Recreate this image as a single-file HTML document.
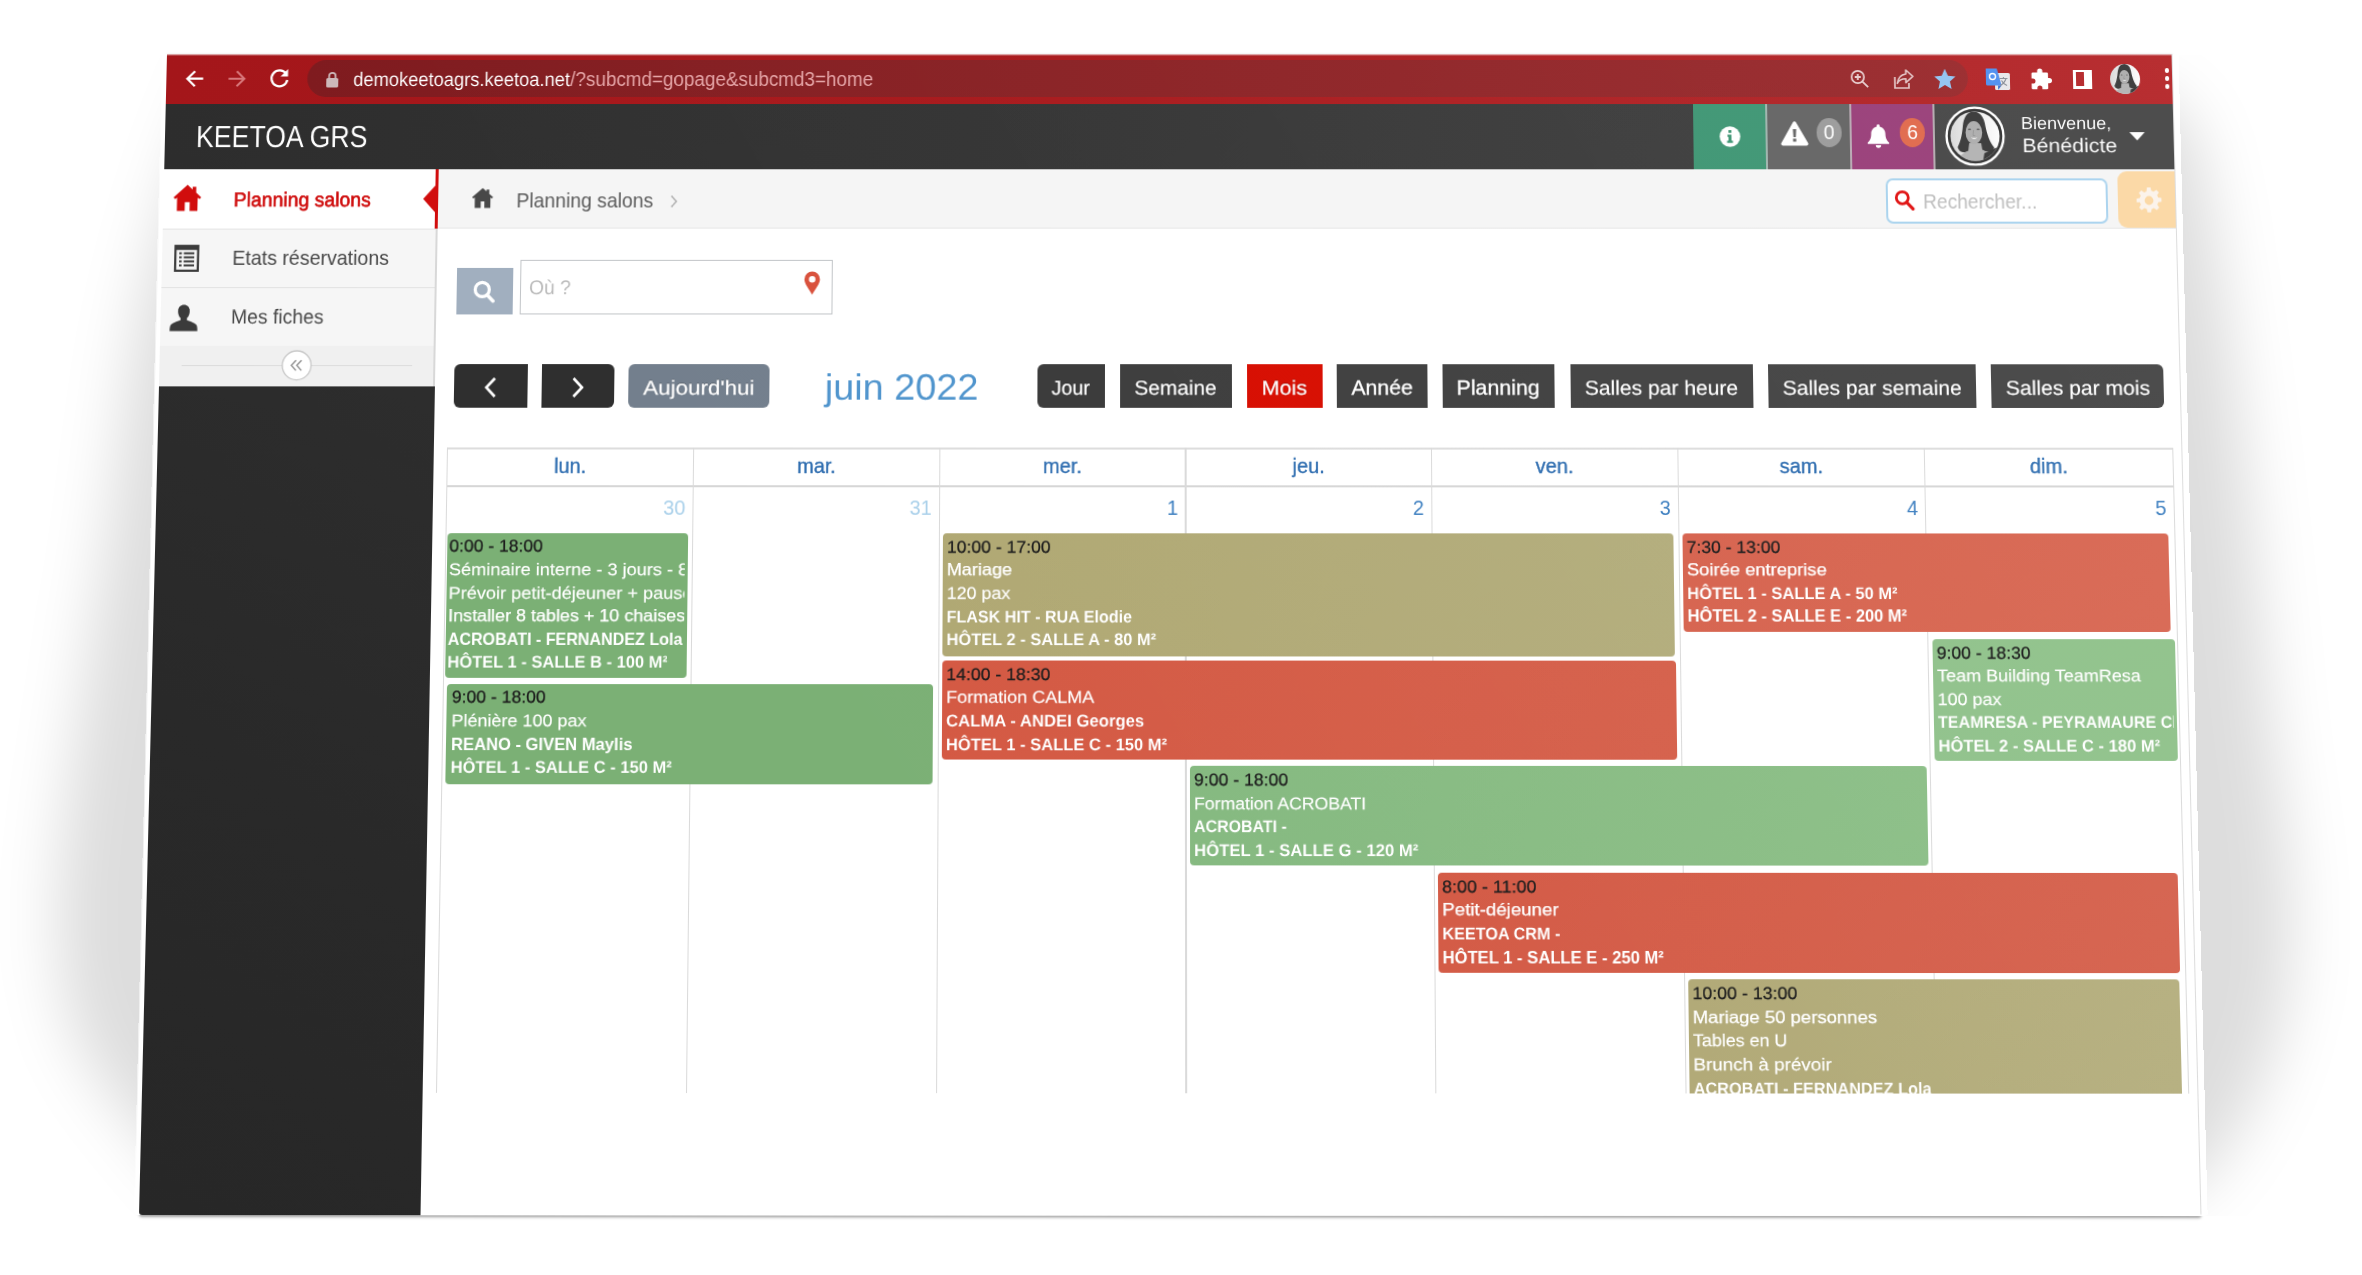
<!DOCTYPE html>
<html lang="fr"><head><meta charset="utf-8"><title>KEETOA GRS - Planning salons</title>
<style>
html,body{margin:0;padding:0;background:#fff}
body{width:2362px;height:1275px;overflow:hidden;position:relative;font-family:"Liberation Sans",sans-serif}
.a{position:absolute;display:block}
.t{position:absolute;white-space:nowrap;margin:0;padding:0}
#page{position:absolute;left:0;top:0;width:2006px;height:1130px;transform-origin:0 0;transform:matrix3d(0.99884448,-0.00002253,0,-0.0000004172, -0.02817683,0.99773107,0,-0.0000244465, 0,0,1,0, 167.000000,54.000000,0,1);background:#fff;overflow:hidden;border-radius:0 0 3px 3px;outline:1px solid transparent}
.sh{position:absolute;pointer-events:none}
#back{position:absolute;left:0;top:0;width:2006px;height:1130px;transform-origin:0 0;transform:matrix3d(0.99884448,-0.00002253,0,-0.0000004172, -0.02817683,0.99773107,0,-0.0000244465, 0,0,1,0, 167.000000,54.000000,0,1);background:#fff;box-shadow:-4.5px 0 0 #fff,6px 0 0 #fff,0 1.5px 2.5px rgba(0,0,0,.35);border-radius:0 0 3px 3px}
</style></head><body>
<svg class="sh" style="left:0;top:0" width="2362" height="1275" viewBox="0 0 2362 1275"><defs><filter id="bl" x="-20%" y="-20%" width="140%" height="140%"><feGaussianBlur stdDeviation="30"/></filter><clipPath id="shc"><rect x="0" y="55" width="2362" height="1161"/></clipPath></defs>
<g clip-path="url(#shc)">
<g filter="url(#bl)" fill="#000" fill-opacity=".135">
<path d="M222 62C185 140 156 230 136 330C118 440 110 540 95 610C80 720 58 830 58 920C58 980 68 1025 88 1060C108 1092 125 1112 150 1142C165 1160 180 1180 200 1196L330 1196L330 62Z"/>
<path d="M2120 84C2160 90 2186 110 2196 140C2206 180 2212 210 2217 250C2226 300 2232 350 2238 400C2250 500 2260 600 2269 700C2276 770 2290 840 2291 900C2292 950 2290 990 2282 1020C2274 1052 2266 1076 2254 1100C2244 1120 2236 1135 2225 1150C2210 1170 2196 1186 2180 1196L2020 1196L2020 84Z"/>
</g></g></svg>

<div id="back"></div>
<div id="page"><div class="a" style="left:0.0px;top:0.0px;width:2006.0px;height:50.5px;background:linear-gradient(90deg,#a4161a 0%,#a8191c 40%,#b5272a 100%);"></div><div class="a" style="left:141.3px;top:5.9px;width:1659.4px;height:37.4px;background:linear-gradient(90deg,#7f1b1f 0%,#8a2225 45%,#9a2a2d 100%);border-radius:18.7px"></div><div class="a" style="left:0.0px;top:0.0px;width:2006.0px;height:2.2px;background:linear-gradient(rgba(255,255,255,.8),rgba(255,255,255,0));"></div><svg class="a" style="left:18px;top:13px" width="22" height="24" viewBox="0 0 22 24"><path d="M18.8 11.7H3.4M10.6 4.2L3 11.7l7.6 7.5" fill="none" stroke="#fff" stroke-width="2.2"/></svg><svg class="a" style="left:60px;top:13px" width="22" height="24" viewBox="0 0 22 24"><path d="M2.2 11.7h15.4M10.4 4.2l7.6 7.5-7.6 7.5" fill="none" stroke="#d8787b" stroke-width="2"/></svg><svg class="a" style="left:101px;top:12px" width="24" height="26" viewBox="0 0 24 26"><path d="M18.6 7.6A8 8 0 1 0 20 14" fill="none" stroke="#fff" stroke-width="2.3"/><path d="M20.6 3v7.4h-7.4z" fill="#fff"/></svg><svg class="a" style="left:158.5px;top:17px" width="14" height="17" viewBox="0 0 14 17"><rect x="1" y="7" width="12" height="9.4" rx="1.5" fill="#cdb9ba"/><path d="M3.8 7.5V5a3.2 3.2 0 0 1 6.4 0v2.5" fill="none" stroke="#cdb9ba" stroke-width="1.8"/></svg><div id="url1" class="t" style="left:187.2px;transform-origin:0 50%;transform:scaleX(0.9344);top:10.51px;font-size:19.6px;line-height:29.4px;color:#fff;font-weight:400;">demokeetoagrs.keetoa.net</div><div id="url2" class="t" style="left:404.2px;transform-origin:0 50%;transform:scaleX(0.9625);top:10.51px;font-size:19.6px;line-height:29.4px;color:#e4a3a5;font-weight:400;">/?subcmd=gopage&amp;subcmd3=home</div><svg class="a" style="left:1681px;top:13px" width="24" height="24" viewBox="0 0 24 24"><circle cx="10" cy="10" r="6.2" fill="none" stroke="#e9cfd0" stroke-width="1.7"/><path d="M14.6 14.6l5.6 5.6M7 10h6M10 7v6" stroke="#e9cfd0" stroke-width="1.8" fill="none"/></svg><svg class="a" style="left:1724px;top:12px" width="26" height="26" viewBox="0 0 26 26"><path d="M4 11v11h14v-5" fill="none" stroke="#e3c3c4" stroke-width="1.7"/><path d="M15 4l7 6.4-7 6.2v-3.8c-4.5 0-7 1.6-8.6 4.6.6-5 3.3-8.6 8.6-9.4z" fill="none" stroke="#e3c3c4" stroke-width="1.6" stroke-linejoin="round"/></svg><svg class="a" style="left:1765.6px;top:12.5px" width="24" height="24" viewBox="0 0 24 24"><path d="M12 1.8l3.1 6.9 7.5.8-5.6 5 1.6 7.4L12 18.100l-6.600 3.800 1.600-7.400-5.600-5 7.500-.8z" fill="#92c4f2"/></svg><svg class="a" style="left:1817px;top:11px" width="28" height="28" viewBox="0 0 28 28"><rect x="11" y="8" width="15" height="17" rx="1.5" fill="#e8e8ea"/><path d="M2 3.5h11l4.500 17H3.500A1.500 1.500 0 0 1 2 19z" fill="#4f8ff0"/><path d="M17.500 20.500L14 25v-4.500z" fill="#3a6fd0"/><circle cx="8.600" cy="11.500" r="3" fill="none" stroke="#fff" stroke-width="1.400"/><path d="M15.500 13.500h8M19.500 12v1.500M22 13.500c-.8 3-3 5.500-6 7M17.500 15.500c1 2 3 4 5.500 5" stroke="#8a8f98" stroke-width="1.100" fill="none"/></svg><svg class="a" style="left:1861px;top:12.5px" width="25" height="25" viewBox="0 0 25 25"><path d="M9.300 4.200a2.600 2.600 0 0 1 5.200 0v1.300h4.300a1.300 1.300 0 0 1 1.300 1.300v4.100h1.200a2.700 2.700 0 0 1 0 5.400h-1.200v4.700a1.300 1.300 0 0 1-1.300 1.300h-4.500v-1.400a2.500 2.500 0 0 0-5 0v1.400H4.900a1.300 1.300 0 0 1-1.300-1.300v-4.400h1.300a2.600 2.600 0 0 0 0-5.200H3.600V6.800a1.300 1.300 0 0 1 1.300-1.300h4.400z" fill="#fff"/></svg><div class="a" style="left:1906.3px;top:15.5px;width:18.6px;height:19.0px;background:#fff;"></div><div class="a" style="left:1909.0px;top:18.2px;width:8.0px;height:13.6px;background:#b5272a;"></div><svg class="a" style="left:1943.400px;top:10px" width="30" height="30" viewBox="5.500 5.500 49 49"><defs><clipPath id="av1c"><circle cx="30" cy="30" r="24.500"/></clipPath><linearGradient id="av1g" x1="0" x2="1"><stop offset="0" stop-color="#d4d4d4"/><stop offset=".45" stop-color="#ececec"/><stop offset="1" stop-color="#ffffff"/></linearGradient></defs><g clip-path="url(#av1c)"><rect width="60" height="60" fill="url(#av1g)"/><path d="M29 5.500C22 5.500 19 12 18 20C17 30 15 36 12.500 41C14 47 20 47 24 44.500L38 44.500C42 47 47.500 45 49 41.500C44.500 36 42 28 40.500 20C39.500 12 36 5.500 29 5.500Z" fill="#393939"/><path d="M24 37L36 37L37 43.500C42 45.500 46 50 47 57L12 57C13 50 18 46.500 23 44.500Z" fill="#b3b3b3"/><path d="M39 47C43 45 48 42.500 53 41L58 58L37 58Z" fill="#363636"/><ellipse cx="28.900" cy="26.500" rx="8.300" ry="11.400" fill="#adadad"/><path d="M25.800 31.200C27.500 33.600 30.800 33.600 32.400 31.200C30.500 32 27.800 32 25.800 31.200Z" fill="#eeeeee"/><ellipse cx="24.600" cy="23.300" rx="1.700" ry=".8" fill="#5a5a5a"/><ellipse cx="33.200" cy="23.300" rx="1.700" ry=".8" fill="#5a5a5a"/><path d="M28.600 24L28 29.500L30.200 29.500" fill="none" stroke="#8f8f8f" stroke-width=".7"/></g></svg><div class="a" style="left:1997.8px;top:14.3px;width:4.4px;height:4.4px;background:#fff;border-radius:50%"></div><div class="a" style="left:1997.8px;top:22.3px;width:4.4px;height:4.4px;background:#fff;border-radius:50%"></div><div class="a" style="left:1997.8px;top:30.3px;width:4.4px;height:4.4px;background:#fff;border-radius:50%"></div><div class="a" style="left:0.0px;top:50.0px;width:2006.0px;height:65.0px;background:linear-gradient(90deg,#2d2d2d 0%,#343434 40%,#404040 85%,#464646 100%);"></div><div id="brand" class="t" style="left:31.3px;transform-origin:0 50%;transform:scaleX(0.8710);top:59.55px;font-size:30.6px;line-height:45.9px;color:#fff;font-weight:400;">KEETOA GRS</div><div class="a" style="left:1525.7px;top:50.0px;width:72.2px;height:65.0px;background:#3f9674;"></div><div class="a" style="left:1597.9px;top:50.0px;width:2.0px;height:65.0px;background:#9fb5ae;"></div><div class="a" style="left:1599.9px;top:50.0px;width:82.0px;height:65.0px;background:#656565;"></div><div class="a" style="left:1681.9px;top:50.0px;width:1.8px;height:65.0px;background:#b9a9b3;"></div><div class="a" style="left:1683.7px;top:50.0px;width:81.0px;height:65.0px;background:#993f79;"></div><div class="a" style="left:1764.7px;top:50.0px;width:2.2px;height:65.0px;background:#b5aab0;"></div><div class="a" style="left:1766.9px;top:50.0px;width:239.1px;height:65.0px;background:#474747;"></div><svg class="a" style="left:1551.5px;top:71.800px" width="21" height="21" viewBox="0 0 21 21"><circle cx="10.500" cy="10.500" r="10.300" fill="#fff"/><path d="M8 8.600h4v6h1.400v2.200H7.600v-2.200H9v-3.800H8zM9 4h3v2.800H9z" fill="#3f9674"/></svg><svg class="a" style="left:1611.5px;top:66px" width="30" height="26" viewBox="0 0 30 26"><path d="M15 1.200a1.600 1.600 0 0 1 1.400.8l12 21a1.600 1.600 0 0 1-1.400 2.400H3a1.600 1.600 0 0 1-1.400-2.400l12-21a1.600 1.600 0 0 1 1.400-.8z" fill="#fff"/><path d="M13.300 9h3.400l-.5 8h-2.400zM13.400 18.600h3.200v3h-3.200z" fill="#656565"/></svg><div class="a" style="left:1649.2px;top:64.2px;width:24.6px;height:28.4px;background:#9b9b9b;border-radius:50%"></div><div id="b0" class="t" style="left:1661.5px;transform:translateX(-50%) scaleX(1.0000);top:63.82px;font-size:19.5px;line-height:29.25px;color:#fff;font-weight:400;">0</div><svg class="a" style="left:1697.5px;top:68.500px" width="25" height="26" viewBox="0 0 25 26"><path d="M12.500 1.200c.9 0 1.500.6 1.500 1.500v.7c3.600.8 5.600 3.800 5.600 7.400 0 4.600 1.400 6.800 3.600 8.600v1.400H1.800v-1.400C4 17.600 5.400 15.400 5.400 10.800c0-3.600 2-6.600 5.600-7.400v-.7c0-.9.600-1.500 1.500-1.500zM9.800 22h5.400a2.700 2.700 0 0 1-5.400 0z" fill="#fff"/></svg><div class="a" style="left:1732.3px;top:64.2px;width:24.6px;height:28.4px;background:#e06a4c;border-radius:50%"></div><div id="b6" class="t" style="left:1744.6px;transform:translateX(-50%) scaleX(1.0000);top:63.82px;font-size:19.5px;line-height:29.25px;color:#fff;font-weight:400;">6</div><svg class="a" style="left:1777.400px;top:51.500px" width="60" height="60" viewBox="0 0 60 60"><circle cx="30" cy="30" r="28.400" fill="#333333" stroke="#fff" stroke-width="2.400"/><defs><clipPath id="av2c"><circle cx="30" cy="30" r="24.500"/></clipPath><linearGradient id="av2g" x1="0" x2="1"><stop offset="0" stop-color="#d4d4d4"/><stop offset=".45" stop-color="#ececec"/><stop offset="1" stop-color="#ffffff"/></linearGradient></defs><g clip-path="url(#av2c)"><rect width="60" height="60" fill="url(#av2g)"/><path d="M29 5.500C22 5.500 19 12 18 20C17 30 15 36 12.500 41C14 47 20 47 24 44.500L38 44.500C42 47 47.500 45 49 41.500C44.500 36 42 28 40.500 20C39.500 12 36 5.500 29 5.500Z" fill="#393939"/><path d="M24 37L36 37L37 43.500C42 45.500 46 50 47 57L12 57C13 50 18 46.500 23 44.500Z" fill="#b3b3b3"/><path d="M39 47C43 45 48 42.500 53 41L58 58L37 58Z" fill="#363636"/><ellipse cx="28.900" cy="26.500" rx="8.300" ry="11.400" fill="#adadad"/><path d="M25.800 31.200C27.500 33.600 30.800 33.600 32.400 31.200C30.500 32 27.800 32 25.800 31.200Z" fill="#eeeeee"/><ellipse cx="24.600" cy="23.300" rx="1.700" ry=".8" fill="#5a5a5a"/><ellipse cx="33.200" cy="23.300" rx="1.700" ry=".8" fill="#5a5a5a"/><path d="M28.600 24L28 29.500L30.200 29.500" fill="none" stroke="#8f8f8f" stroke-width=".7"/></g></svg><div id="bienv" class="t" style="left:1853.3px;transform-origin:0 50%;transform:scaleX(1.0364);top:55.82px;font-size:17.4px;line-height:26.1px;color:#fff;font-weight:400;">Bienvenue,</div><div id="bened" class="t" style="left:1854.1px;transform-origin:0 50%;transform:scaleX(1.0854);top:77.11px;font-size:19.6px;line-height:29.4px;color:#fff;font-weight:400;">Bénédicte</div><svg class="a" style="left:1960.800px;top:78px" width="16" height="9" viewBox="0 0 16 9"><path d="M0 0h15.400L7.700 8.200z" fill="#fff"/></svg><div class="a" style="left:0.0px;top:115.0px;width:273.5px;height:215.0px;background:#f6f6f6;"></div><div class="a" style="left:0.0px;top:115.0px;width:273.5px;height:58.5px;background:#fff;"></div><div class="a" style="left:0.0px;top:173.5px;width:272.5px;height:1.3px;background:#e4e4e4;"></div><div class="a" style="left:0.0px;top:232.0px;width:272.5px;height:1.3px;background:#e2e2e2;"></div><div class="a" style="left:0.0px;top:290.3px;width:273.5px;height:39.7px;background:#f0f0f0;"></div><div class="a" style="left:272.4px;top:173.5px;width:1.3px;height:157.0px;background:#d8d8d8;"></div><div class="a" style="left:0.0px;top:329.8px;width:273.5px;height:800.2px;background:linear-gradient(35deg,#272727 0%,#292929 50%,#2d2d2d 100%);"></div><div class="a" style="left:270.8px;top:115.0px;width:3.0px;height:58.8px;background:#d10d0d;"></div><svg class="a" style="left:258.800px;top:128.500px" width="14" height="31" viewBox="0 0 14 31"><path d="M14 0v31L0 15.500z" fill="#d10d0d"/></svg><svg class="a" style="left:9.000px;top:128.300px" width="29.600" height="30.800" viewBox="0 0 28 28" preserveAspectRatio="none"><path d="M14 2.200L1 13.600l1.500 1.700 1.800-1.500V26h7.400v-8h4.600v8h7.400V13.800l1.800 1.500 1.500-1.700-4.800-4.200V4h-3.400v2.500z" fill="#d10d0d"/></svg><div id="ps" class="t" style="left:69.7px;transform-origin:0 50%;transform:scaleX(0.9794);top:131.09px;font-size:19.8px;line-height:29.7px;color:#cf0c0c;font-weight:400;-webkit-text-stroke:.6px #cf0c0c;">Planning salons</div><svg class="a" style="left:11.500px;top:190px" width="25" height="27" viewBox="0 0 25 27"><rect x="1.200" y="1.200" width="22.600" height="24.600" fill="none" stroke="#3b3b3b" stroke-width="2.200"/><rect x="1" y="1" width="23" height="4.200" fill="#3b3b3b"/><path d="M5 8.600h2.600M5 12.600h2.600M5 16.600h2.600M5 20.600h2.600M9.600 8.600H20M9.600 12.600H20M9.600 16.600H20M9.600 20.600H20" stroke="#3b3b3b" stroke-width="2"/></svg><div id="er" class="t" style="left:69.9px;transform-origin:0 50%;transform:scaleX(0.9853);top:189.09px;font-size:19.8px;line-height:29.7px;color:#474747;font-weight:400;">Etats réservations</div><svg class="a" style="left:8.600px;top:248.500px" width="28" height="27" viewBox="0 0 28 27"><path d="M14 0.500c3.600 0 5.800 2.700 5.800 6.400 0 2.600-1 5.200-2.600 6.700v2.200c3.800 1.400 8.400 2.800 9.600 4.800.8 1.300 1 3.400 1 5.900H.200c0-2.500.200-4.600 1-5.900 1.200-2 5.800-3.400 9.600-4.800v-2.200C9.200 12.100 8.200 9.500 8.200 6.900 8.200 3.200 10.400.5 14 .5z" fill="#3b3b3b"/></svg><div id="mf" class="t" style="left:69.7px;transform-origin:0 50%;transform:scaleX(0.9741);top:247.19px;font-size:19.8px;line-height:29.7px;color:#474747;font-weight:400;">Mes fiches</div><div class="a" style="left:21.7px;top:309.3px;width:229.2px;height:1.2px;background:#dcdcdc;"></div><svg class="a" style="left:121px;top:294.400px" width="31" height="31" viewBox="0 0 31 31"><circle cx="15.300" cy="15.300" r="14.300" fill="#fff" stroke="#c8c8c8" stroke-width="1.300"/><path d="M14.600 10.200l-4.600 5.100 4.600 5.100M20 10.200l-4.600 5.100 4.600 5.100" fill="none" stroke="#8a8a8a" stroke-width="1.300"/></svg><div class="a" style="left:273.5px;top:115.0px;width:1732.5px;height:58.5px;background:#f5f5f5;"></div><div class="a" style="left:273.5px;top:172.6px;width:1732.5px;height:1.4px;background:#e6e6e6;"></div><svg class="a" style="left:307.400px;top:131.600px" width="22.600" height="22.600" viewBox="0 0 20 20"><path d="M10 1.500L.8 9.600l1 1.200 1.300-1.100V19h5.300v-5.800h3.200V19h5.300V9.700l1.300 1.100 1-1.200-3.400-3V2.800h-2.400v1.700z" fill="#484848"/></svg><div id="bct" class="t" style="left:351.6px;transform-origin:0 50%;transform:scaleX(0.9773);top:131.59px;font-size:19.8px;line-height:29.7px;color:#5a5a5a;font-weight:400;">Planning salons</div><svg class="a" style="left:503.500px;top:139.500px" width="10" height="14" viewBox="0 0 10 14"><path d="M2.500 1.500l5 5.500-5 5.500" fill="none" stroke="#b4b4b4" stroke-width="1.600"/></svg><div class="a" style="left:1717.2px;top:124.0px;width:220.4px;height:45.3px;background:#fff;border:2px solid #a9d3ee;border-radius:7px;box-sizing:border-box"></div><svg class="a" style="left:1724.600px;top:134.500px" width="21" height="22" viewBox="0 0 21 22"><circle cx="8.300" cy="8.300" r="6" fill="none" stroke="#e01010" stroke-width="2.800"/><path d="M12.800 13l6 6.400" stroke="#e01010" stroke-width="3.200" stroke-linecap="round"/></svg><div id="rech" class="t" style="left:1753.7px;transform-origin:0 50%;transform:scaleX(0.9647);top:133.09px;font-size:19.8px;line-height:29.7px;color:#bdbdbd;font-weight:400;">Rechercher...</div><div class="a" style="left:1948.2px;top:117.1px;width:59.8px;height:56.0px;background:#fbd8a4;border-radius:9px 0 0 9px"></div><svg class="a" style="left:1965.600px;top:132.900px" width="26" height="26" viewBox="0 0 26 26"><path d="M11.200 0h3.600l.6 3.300c.8.200 1.600.6 2.300 1l2.800-1.900 2.500 2.500-1.900 2.800c.4.700.8 1.500 1 2.300l3.300.6v3.600l-3.300.6c-.200.800-.6 1.600-1 2.300l1.900 2.800-2.500 2.500-2.800-1.900c-.7.400-1.500.8-2.300 1l-.6 3.300h-3.600l-.6-3.300c-.8-.200-1.600-.6-2.300-1l-2.800 1.900-2.500-2.500 1.900-2.800c-.4-.7-.8-1.500-1-2.300L.6 14.800v-3.600l3.300-.6c.2-.8.600-1.600 1-2.300L3 5.500 5.500 3l2.800 1.900c.7-.4 1.500-.8 2.300-1zM13 8.600a4.400 4.400 0 1 0 0 8.800 4.400 4.400 0 0 0 0-8.800z" fill="#fbf3ea" fill-rule="evenodd"/></svg><div class="a" style="left:293.5px;top:212.7px;width:56.2px;height:46.1px;background:#a1afbf;"></div><svg class="a" style="left:310.000px;top:225.000px" width="22" height="23" viewBox="0 0 22 23"><circle cx="9.400" cy="9.400" r="7" fill="none" stroke="#fff" stroke-width="3.200"/><path d="M14.600 15l5.600 5.800" stroke="#fff" stroke-width="3.400" stroke-linecap="round"/></svg><div class="a" style="left:356.6px;top:204.6px;width:311.0px;height:54.1px;background:#fff;border:1.800px solid #c2c5c8;box-sizing:border-box"></div><div id="ou" class="t" style="left:366.2px;transform-origin:0 50%;transform:scaleX(0.9676);top:218.09px;font-size:19.8px;line-height:29.7px;color:#b9b9b9;font-weight:400;">Où ?</div><svg class="a" style="left:639.300px;top:215.600px" width="17.200" height="24" viewBox="0 0 16 23"><path d="M8 .5a7.400 7.400 0 0 1 7.400 7.400c0 4.200-4.600 9.600-7.400 14.600C5.200 17.500.6 12.100.6 7.900A7.400 7.400 0 0 1 8 .5zm0 4.300a3.100 3.100 0 1 0 0 6.200 3.100 3.100 0 0 0 0-6.200z" fill="#d9513c" fill-rule="evenodd"/></svg><div class="a" style="left:293.1px;top:307.9px;width:72.6px;height:43.1px;background:#2f2f2f;border-radius:6px 0 0 6px"></div><div class="a" style="left:379.8px;top:307.9px;width:72.2px;height:43.1px;background:#2f2f2f;border-radius:0 6px 6px 0"></div><svg class="a" style="left:322px;top:319.500px" width="14" height="22" viewBox="0 0 14 22"><path d="M11.500 2L3 11l8.500 9" fill="none" stroke="#fff" stroke-width="2.600"/></svg><svg class="a" style="left:409px;top:319.500px" width="14" height="22" viewBox="0 0 14 22"><path d="M2.500 2L11 11l-8.500 9" fill="none" stroke="#fff" stroke-width="2.600"/></svg><div class="a" style="left:466.4px;top:307.9px;width:140.0px;height:43.1px;background:#737f8d;border-radius:6px"></div><div id="auj" class="t" style="left:536.4px;transform:translateX(-50%) scaleX(1.1234);top:316.89px;font-size:19.8px;line-height:29.7px;color:#fff;font-weight:400;text-shadow:0 -1px 0 rgba(0,0,0,.25);-webkit-text-stroke:.3px #fff;">Aujourd&#x27;hui</div><div id="month" class="t" style="left:661.3px;transform-origin:0 50%;transform:scaleX(1.0435);top:303.53px;font-size:36px;line-height:54.0px;color:#4f94cd;font-weight:400;">juin 2022</div><div class="a" style="left:871.8px;top:307.9px;width:67.2px;height:43.1px;background:#3a3a3a;border-radius:6px 0 0 6px"></div><div id="jour" class="t" style="left:905.4px;transform:translateX(-50%) scaleX(0.9874);top:316.89px;font-size:19.8px;line-height:29.7px;color:#fff;font-weight:400;text-shadow:0 -1px 0 rgba(0,0,0,.25);-webkit-text-stroke:.3px #fff;">Jour</div><div class="a" style="left:954.0px;top:307.9px;width:110.6px;height:43.1px;background:#3d3d3d;border-radius:0"></div><div id="sem" class="t" style="left:1009.3px;transform:translateX(-50%) scaleX(1.0438);top:316.89px;font-size:19.8px;line-height:29.7px;color:#fff;font-weight:400;text-shadow:0 -1px 0 rgba(0,0,0,.25);-webkit-text-stroke:.3px #fff;">Semaine</div><div class="a" style="left:1079.9px;top:307.9px;width:74.9px;height:43.1px;background:#d70d00;border-radius:0"></div><div id="mois" class="t" style="left:1117.3px;transform:translateX(-50%) scaleX(1.0774);top:316.89px;font-size:19.8px;line-height:29.7px;color:#fff;font-weight:400;text-shadow:0 -1px 0 rgba(0,0,0,.25);-webkit-text-stroke:.3px #fff;">Mois</div><div class="a" style="left:1168.9px;top:307.9px;width:90.4px;height:43.1px;background:#3f3f3f;border-radius:0"></div><div id="annee" class="t" style="left:1214.1px;transform:translateX(-50%) scaleX(1.0664);top:316.89px;font-size:19.8px;line-height:29.7px;color:#fff;font-weight:400;text-shadow:0 -1px 0 rgba(0,0,0,.25);-webkit-text-stroke:.3px #fff;">Année</div><div class="a" style="left:1273.5px;top:307.9px;width:111.8px;height:43.1px;background:#404040;border-radius:0"></div><div id="plan" class="t" style="left:1329.4px;transform:translateX(-50%) scaleX(1.0714);top:316.89px;font-size:19.8px;line-height:29.7px;color:#fff;font-weight:400;text-shadow:0 -1px 0 rgba(0,0,0,.25);-webkit-text-stroke:.3px #fff;">Planning</div><div class="a" style="left:1400.9px;top:307.9px;width:180.8px;height:43.1px;background:#424242;border-radius:0"></div><div id="sph" class="t" style="left:1491.3px;transform:translateX(-50%) scaleX(1.0551);top:316.89px;font-size:19.8px;line-height:29.7px;color:#fff;font-weight:400;text-shadow:0 -1px 0 rgba(0,0,0,.25);-webkit-text-stroke:.3px #fff;">Salles par heure</div><div class="a" style="left:1596.6px;top:307.9px;width:206.4px;height:43.1px;background:#444444;border-radius:0"></div><div id="sps" class="t" style="left:1699.8px;transform:translateX(-50%) scaleX(1.0551);top:316.89px;font-size:19.8px;line-height:29.7px;color:#fff;font-weight:400;text-shadow:0 -1px 0 rgba(0,0,0,.25);-webkit-text-stroke:.3px #fff;">Salles par semaine</div><div class="a" style="left:1818.2px;top:307.9px;width:170.9px;height:43.1px;background:#464646;border-radius:0 6px 6px 0"></div><div id="spm" class="t" style="left:1903.7px;transform:translateX(-50%) scaleX(1.0574);top:316.89px;font-size:19.8px;line-height:29.7px;color:#fff;font-weight:400;text-shadow:0 -1px 0 rgba(0,0,0,.25);-webkit-text-stroke:.3px #fff;">Salles par mois</div><div class="a" style="left:280px;top:385px;width:1726px;height:628.800px;overflow:hidden"><div class="a" style="left:-280px;top:-385px;width:2006px;height:1130px"><div class="a" style="left:287.2px;top:390.4px;width:1709.0px;height:1.3px;background:#dddddd;"></div><div class="a" style="left:287.2px;top:427.0px;width:1709.0px;height:2.0px;background:#d6d6d6;"></div><div class="a" style="left:286.6px;top:390.4px;width:1.3px;height:700.0px;background:#dadada;"></div><div class="a" style="left:531.0px;top:390.4px;width:1.3px;height:700.0px;background:#dadada;"></div><div class="a" style="left:774.6px;top:390.4px;width:1.3px;height:700.0px;background:#dadada;"></div><div class="a" style="left:1018.4px;top:390.4px;width:1.3px;height:700.0px;background:#dadada;"></div><div class="a" style="left:1261.6px;top:390.4px;width:1.3px;height:700.0px;background:#dadada;"></div><div class="a" style="left:1505.5px;top:390.4px;width:1.3px;height:700.0px;background:#dadada;"></div><div class="a" style="left:1750.1px;top:390.4px;width:1.3px;height:700.0px;background:#dadada;"></div><div class="a" style="left:1995.5px;top:390.4px;width:1.3px;height:700.0px;background:#dadada;"></div><div id="d0" class="t" style="left:409.4px;transform:translateX(-50%) scaleX(1.0000);top:394.29px;font-size:19.8px;line-height:29.7px;color:#2e6db0;font-weight:400;-webkit-text-stroke:.35px #2e6db0;">lun.</div><div id="n0" class="t" style="right:1481.9px;transform-origin:100% 50%;transform:scaleX(1.0000);top:434.89px;font-size:19.8px;line-height:29.7px;color:#a9d0ea;font-weight:400;">30</div><div id="d1" class="t" style="left:653.4px;transform:translateX(-50%) scaleX(1.0000);top:394.29px;font-size:19.8px;line-height:29.7px;color:#2e6db0;font-weight:400;-webkit-text-stroke:.35px #2e6db0;">mar.</div><div id="n1" class="t" style="right:1238.3px;transform-origin:100% 50%;transform:scaleX(1.0000);top:434.89px;font-size:19.8px;line-height:29.7px;color:#a9d0ea;font-weight:400;">31</div><div id="d2" class="t" style="left:897.1px;transform:translateX(-50%) scaleX(1.0000);top:394.29px;font-size:19.8px;line-height:29.7px;color:#2e6db0;font-weight:400;-webkit-text-stroke:.35px #2e6db0;">mer.</div><div id="n2" class="t" style="right:994.5px;transform-origin:100% 50%;transform:scaleX(1.0000);top:434.89px;font-size:19.8px;line-height:29.7px;color:#3d7fc0;font-weight:400;">1</div><div id="d3" class="t" style="left:1140.7px;transform:translateX(-50%) scaleX(1.0000);top:394.29px;font-size:19.8px;line-height:29.7px;color:#2e6db0;font-weight:400;-webkit-text-stroke:.35px #2e6db0;">jeu.</div><div id="n3" class="t" style="right:751.2px;transform-origin:100% 50%;transform:scaleX(1.0000);top:434.89px;font-size:19.8px;line-height:29.7px;color:#3d7fc0;font-weight:400;">2</div><div id="d4" class="t" style="left:1384.2px;transform:translateX(-50%) scaleX(1.0000);top:394.29px;font-size:19.8px;line-height:29.7px;color:#2e6db0;font-weight:400;-webkit-text-stroke:.35px #2e6db0;">ven.</div><div id="n4" class="t" style="right:507.3px;transform-origin:100% 50%;transform:scaleX(1.0000);top:434.89px;font-size:19.8px;line-height:29.7px;color:#3d7fc0;font-weight:400;">3</div><div id="d5" class="t" style="left:1628.5px;transform:translateX(-50%) scaleX(1.0000);top:394.29px;font-size:19.8px;line-height:29.7px;color:#2e6db0;font-weight:400;-webkit-text-stroke:.35px #2e6db0;">sam.</div><div id="n5" class="t" style="right:262.7px;transform-origin:100% 50%;transform:scaleX(1.0000);top:434.89px;font-size:19.8px;line-height:29.7px;color:#3d7fc0;font-weight:400;">4</div><div id="d6" class="t" style="left:1873.5px;transform:translateX(-50%) scaleX(1.0000);top:394.29px;font-size:19.8px;line-height:29.7px;color:#2e6db0;font-weight:400;-webkit-text-stroke:.35px #2e6db0;">dim.</div><div id="n6" class="t" style="right:17.3px;transform-origin:100% 50%;transform:scaleX(1.0000);top:434.89px;font-size:19.8px;line-height:29.7px;color:#3d7fc0;font-weight:400;">5</div><div class="a" style="left:288.8px;top:473.6px;width:238.5px;height:141.5px;background:#7bb075;border-radius:4px"></div><div class="a" style="left:288.8px;top:473.6px;width:235.5px;height:141.5px;overflow:hidden"><div id="e1_0" class="t" style="left:2.5px;top:0.81px;font-size:16.5px;line-height:24.75px;color:#1c1c1c;font-weight:400;transform-origin:0 50%;transform:scaleX(1.0502);-webkit-text-stroke:.25px #1c1c1c">0:00 - 18:00</div><div id="e1_1" class="t" style="left:2.5px;top:23.41px;font-size:16.5px;line-height:24.75px;color:#fff;font-weight:400;transform-origin:0 50%;transform:scaleX(1.0880);-webkit-text-stroke:.25px #fff">Séminaire interne - 3 jours - 8h</div><div id="e1_2" class="t" style="left:2.5px;top:46.01px;font-size:16.5px;line-height:24.75px;color:#fff;font-weight:400;transform-origin:0 50%;transform:scaleX(1.0880);-webkit-text-stroke:.25px #fff">Prévoir petit-déjeuner + pause</div><div id="e1_3" class="t" style="left:2.5px;top:68.61px;font-size:16.5px;line-height:24.75px;color:#fff;font-weight:400;transform-origin:0 50%;transform:scaleX(1.0742);-webkit-text-stroke:.25px #fff">Installer 8 tables + 10 chaises</div><div id="e1_4" class="t" style="left:2.5px;top:91.21px;font-size:16.5px;line-height:24.75px;color:#fff;font-weight:700;transform-origin:0 50%;transform:scaleX(0.9615)">ACROBATI - FERNANDEZ Lola</div><div id="e1_5" class="t" style="left:2.5px;top:113.81px;font-size:16.5px;line-height:24.75px;color:#fff;font-weight:700;transform-origin:0 50%;transform:scaleX(0.9858)">HÔTEL 1 - SALLE B - 100 M²</div></div><div class="a" style="left:291.0px;top:620.5px;width:479.4px;height:97.5px;background:#7bb075;border-radius:4px"></div><div class="a" style="left:291.0px;top:620.5px;width:476.4px;height:97.5px;overflow:hidden"><div id="e2_0" class="t" style="left:4.5px;top:0.81px;font-size:16.5px;line-height:24.75px;color:#1c1c1c;font-weight:400;transform-origin:0 50%;transform:scaleX(1.0502);-webkit-text-stroke:.25px #1c1c1c">9:00 - 18:00</div><div id="e2_1" class="t" style="left:4.5px;top:23.41px;font-size:16.5px;line-height:24.75px;color:#fff;font-weight:400;transform-origin:0 50%;transform:scaleX(1.0739);-webkit-text-stroke:.25px #fff">Plénière 100 pax</div><div id="e2_2" class="t" style="left:4.5px;top:46.01px;font-size:16.5px;line-height:24.75px;color:#fff;font-weight:700;transform-origin:0 50%;transform:scaleX(0.9882)">REANO - GIVEN Maylis</div><div id="e2_3" class="t" style="left:4.5px;top:68.61px;font-size:16.5px;line-height:24.75px;color:#fff;font-weight:700;transform-origin:0 50%;transform:scaleX(0.9858)">HÔTEL 1 - SALLE C - 150 M²</div></div><div class="a" style="left:778.7px;top:473.9px;width:722.4px;height:120.3px;background:linear-gradient(90deg,#b0a873,#b3ad7c);border-radius:4px"></div><div class="a" style="left:778.7px;top:473.9px;width:719.4px;height:120.3px;overflow:hidden"><div id="e3_0" class="t" style="left:4.2px;top:0.81px;font-size:16.5px;line-height:24.75px;color:#1c1c1c;font-weight:400;transform-origin:0 50%;transform:scaleX(1.0540);-webkit-text-stroke:.25px #1c1c1c">10:00 - 17:00</div><div id="e3_1" class="t" style="left:4.2px;top:23.41px;font-size:16.5px;line-height:24.75px;color:#fff;font-weight:400;transform-origin:0 50%;transform:scaleX(1.0818);-webkit-text-stroke:.25px #fff">Mariage</div><div id="e3_2" class="t" style="left:4.2px;top:46.01px;font-size:16.5px;line-height:24.75px;color:#fff;font-weight:400;transform-origin:0 50%;transform:scaleX(1.0695);-webkit-text-stroke:.25px #fff">120 pax</div><div id="e3_3" class="t" style="left:4.2px;top:68.61px;font-size:16.5px;line-height:24.75px;color:#fff;font-weight:700;transform-origin:0 50%;transform:scaleX(0.9628)">FLASK HIT - RUA Elodie</div><div id="e3_4" class="t" style="left:4.2px;top:91.21px;font-size:16.5px;line-height:24.75px;color:#fff;font-weight:700;transform-origin:0 50%;transform:scaleX(0.9836)">HÔTEL 2 - SALLE A - 80 M²</div></div><div class="a" style="left:778.7px;top:598.0px;width:723.0px;height:95.6px;background:linear-gradient(90deg,#d45943,#d5604b);border-radius:4px"></div><div class="a" style="left:778.7px;top:598.0px;width:720.0px;height:95.6px;overflow:hidden"><div id="e4_0" class="t" style="left:4.2px;top:0.81px;font-size:16.5px;line-height:24.75px;color:#1c1c1c;font-weight:400;transform-origin:0 50%;transform:scaleX(1.0540);-webkit-text-stroke:.25px #1c1c1c">14:00 - 18:30</div><div id="e4_1" class="t" style="left:4.2px;top:23.41px;font-size:16.5px;line-height:24.75px;color:#fff;font-weight:400;transform-origin:0 50%;transform:scaleX(1.0743);-webkit-text-stroke:.25px #fff">Formation CALMA</div><div id="e4_2" class="t" style="left:4.2px;top:46.01px;font-size:16.5px;line-height:24.75px;color:#fff;font-weight:700;transform-origin:0 50%;transform:scaleX(0.9955)">CALMA - ANDEI Georges</div><div id="e4_3" class="t" style="left:4.2px;top:68.61px;font-size:16.5px;line-height:24.75px;color:#fff;font-weight:700;transform-origin:0 50%;transform:scaleX(0.9858)">HÔTEL 1 - SALLE C - 150 M²</div></div><div class="a" style="left:1023.0px;top:700.4px;width:723.6px;height:95.8px;background:linear-gradient(90deg,#85b980,#8cbf87);border-radius:4px"></div><div class="a" style="left:1023.0px;top:700.4px;width:720.6px;height:95.8px;overflow:hidden"><div id="e5_0" class="t" style="left:4.2px;top:0.81px;font-size:16.5px;line-height:24.75px;color:#1c1c1c;font-weight:400;transform-origin:0 50%;transform:scaleX(1.0502);-webkit-text-stroke:.25px #1c1c1c">9:00 - 18:00</div><div id="e5_1" class="t" style="left:4.2px;top:23.41px;font-size:16.5px;line-height:24.75px;color:#fff;font-weight:400;transform-origin:0 50%;transform:scaleX(1.0492);-webkit-text-stroke:.25px #fff">Formation ACROBATI</div><div id="e5_2" class="t" style="left:4.2px;top:46.01px;font-size:16.5px;line-height:24.75px;color:#fff;font-weight:700;transform-origin:0 50%;transform:scaleX(0.9485)">ACROBATI -</div><div id="e5_3" class="t" style="left:4.2px;top:68.61px;font-size:16.5px;line-height:24.75px;color:#fff;font-weight:700;transform-origin:0 50%;transform:scaleX(0.9930)">HÔTEL 1 - SALLE G - 120 M²</div></div><div class="a" style="left:1510.2px;top:473.8px;width:479.6px;height:96.0px;background:linear-gradient(90deg,#d6634e,#d86853);border-radius:4px"></div><div class="a" style="left:1510.2px;top:473.8px;width:476.6px;height:96.0px;overflow:hidden"><div id="e6_0" class="t" style="left:4.2px;top:0.81px;font-size:16.5px;line-height:24.75px;color:#1c1c1c;font-weight:400;transform-origin:0 50%;transform:scaleX(1.0502);-webkit-text-stroke:.25px #1c1c1c">7:30 - 13:00</div><div id="e6_1" class="t" style="left:4.2px;top:23.41px;font-size:16.5px;line-height:24.75px;color:#fff;font-weight:400;transform-origin:0 50%;transform:scaleX(1.0982);-webkit-text-stroke:.25px #fff">Soirée entreprise</div><div id="e6_2" class="t" style="left:4.2px;top:46.01px;font-size:16.5px;line-height:24.75px;color:#fff;font-weight:700;transform-origin:0 50%;transform:scaleX(0.9869)">HÔTEL 1 - SALLE A - 50 M²</div><div id="e6_3" class="t" style="left:4.2px;top:68.61px;font-size:16.5px;line-height:24.75px;color:#fff;font-weight:700;transform-origin:0 50%;transform:scaleX(0.9853)">HÔTEL 2 - SALLE E - 200 M²</div></div><div class="a" style="left:1754.8px;top:576.8px;width:239.3px;height:118.1px;background:#90c28b;border-radius:4px"></div><div class="a" style="left:1754.8px;top:576.8px;width:236.3px;height:118.1px;overflow:hidden"><div id="e7_0" class="t" style="left:4.2px;top:0.81px;font-size:16.5px;line-height:24.75px;color:#1c1c1c;font-weight:400;transform-origin:0 50%;transform:scaleX(1.0502);-webkit-text-stroke:.25px #1c1c1c">9:00 - 18:30</div><div id="e7_1" class="t" style="left:4.2px;top:23.41px;font-size:16.5px;line-height:24.75px;color:#fff;font-weight:400;transform-origin:0 50%;transform:scaleX(1.0734);-webkit-text-stroke:.25px #fff">Team Building TeamResa</div><div id="e7_2" class="t" style="left:4.2px;top:46.01px;font-size:16.5px;line-height:24.75px;color:#fff;font-weight:400;transform-origin:0 50%;transform:scaleX(1.0695);-webkit-text-stroke:.25px #fff">100 pax</div><div id="e7_3" class="t" style="left:4.2px;top:68.61px;font-size:16.5px;line-height:24.75px;color:#fff;font-weight:700;transform-origin:0 50%;transform:scaleX(0.9580)">TEAMRESA - PEYRAMAURE Ch</div><div id="e7_4" class="t" style="left:4.2px;top:91.21px;font-size:16.5px;line-height:24.75px;color:#fff;font-weight:700;transform-origin:0 50%;transform:scaleX(0.9880)">HÔTEL 2 - SALLE C - 180 M²</div></div><div class="a" style="left:1266.2px;top:802.9px;width:724.6px;height:96.6px;background:linear-gradient(90deg,#d35a45,#d5624e);border-radius:4px"></div><div class="a" style="left:1266.2px;top:802.9px;width:721.6px;height:96.6px;overflow:hidden"><div id="e8_0" class="t" style="left:4.2px;top:0.81px;font-size:16.5px;line-height:24.75px;color:#1c1c1c;font-weight:400;transform-origin:0 50%;transform:scaleX(1.0651);-webkit-text-stroke:.25px #1c1c1c">8:00 - 11:00</div><div id="e8_1" class="t" style="left:4.2px;top:23.41px;font-size:16.5px;line-height:24.75px;color:#fff;font-weight:400;transform-origin:0 50%;transform:scaleX(1.1097);-webkit-text-stroke:.25px #fff">Petit-déjeuner</div><div id="e8_2" class="t" style="left:4.2px;top:46.01px;font-size:16.5px;line-height:24.75px;color:#fff;font-weight:700;transform-origin:0 50%;transform:scaleX(0.9617)">KEETOA CRM -</div><div id="e8_3" class="t" style="left:4.2px;top:68.61px;font-size:16.5px;line-height:24.75px;color:#fff;font-weight:700;transform-origin:0 50%;transform:scaleX(0.9853)">HÔTEL 1 - SALLE E - 250 M²</div></div><div class="a" style="left:1510.2px;top:905.3px;width:479.4px;height:144.7px;background:linear-gradient(90deg,#b1a976,#b5af7f);border-radius:4px"></div><div class="a" style="left:1510.2px;top:905.3px;width:476.4px;height:144.7px;overflow:hidden"><div id="e9_0" class="t" style="left:4.2px;top:0.81px;font-size:16.5px;line-height:24.75px;color:#1c1c1c;font-weight:400;transform-origin:0 50%;transform:scaleX(1.0540);-webkit-text-stroke:.25px #1c1c1c">10:00 - 13:00</div><div id="e9_1" class="t" style="left:4.2px;top:23.41px;font-size:16.5px;line-height:24.75px;color:#fff;font-weight:400;transform-origin:0 50%;transform:scaleX(1.0963);-webkit-text-stroke:.25px #fff">Mariage 50 personnes</div><div id="e9_2" class="t" style="left:4.2px;top:46.01px;font-size:16.5px;line-height:24.75px;color:#fff;font-weight:400;transform-origin:0 50%;transform:scaleX(1.0558);-webkit-text-stroke:.25px #fff">Tables en U</div><div id="e9_3" class="t" style="left:4.2px;top:68.61px;font-size:16.5px;line-height:24.75px;color:#fff;font-weight:400;transform-origin:0 50%;transform:scaleX(1.1151);-webkit-text-stroke:.25px #fff">Brunch à prévoir</div><div id="e9_4" class="t" style="left:4.2px;top:91.21px;font-size:16.5px;line-height:24.75px;color:#fff;font-weight:700;transform-origin:0 50%;transform:scaleX(0.9636)">ACROBATI - FERNANDEZ Lola</div></div></div></div><div class="a" style="left:2004.8px;top:0.0px;width:1.2px;height:1130.0px;background:#dcdcdc;"></div><div class="a" style="left:0.0px;top:0.0px;width:2006.0px;height:1130.0px;background:linear-gradient(60deg,rgba(255,255,255,0) 30%,rgba(255,255,255,.035) 100%);pointer-events:none"></div></div>
</body></html>
